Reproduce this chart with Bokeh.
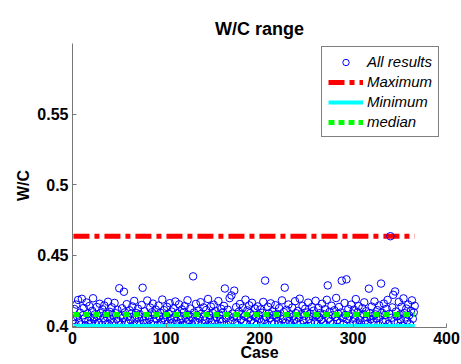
import numpy as np
from bokeh.plotting import figure
from bokeh.models import Range1d, FixedTicker, Legend, LegendItem
from bokeh.embed import file_html
from bokeh.resources import INLINE

title_text = "W/C range"
x_label = "Case"
y_label = "W/C"
x_ticks = [0, 100, 200, 300, 400]
y_ticks = [0.4, 0.45, 0.5, 0.55]
y_tick_labels = ["0.4", "0.45", "0.5", "0.55"]
series_names = ["All results", "Maximum", "Minimum", "median"]

wc = [
    0.4043, 0.4121, 0.4017, 0.4152, 0.4068, 0.4185, 0.4032, 0.4095, 0.4011, 0.4193, 0.4076, 0.4128, 0.4054, 0.4003, 0.4167, 0.4089, 0.4038, 0.4142, 0.4062, 0.4021,
    0.4108, 0.4197, 0.4049, 0.4083, 0.4015, 0.4135, 0.4071, 0.4026, 0.4158, 0.4092, 0.4007, 0.4119, 0.4057, 0.4146, 0.4035, 0.4088, 0.4064, 0.4172, 0.4012, 0.4101,
    0.4047, 0.4133, 0.4079, 0.4024, 0.4164, 0.4091, 0.4052, 0.4115, 0.4036, 0.4268, 0.4073, 0.4009, 0.4126, 0.4058, 0.4243, 0.4097, 0.4031, 0.4155, 0.4066, 0.4019,
    0.4112, 0.4044, 0.4087, 0.4139, 0.4005, 0.4178, 0.4061, 0.4093, 0.4027, 0.4123, 0.4055, 0.4084, 0.4016, 0.4149, 0.4271, 0.4039, 0.4105, 0.4069, 0.4022, 0.4181,
    0.4074, 0.4046, 0.4131, 0.4013, 0.4098, 0.4159, 0.4033, 0.4082, 0.4117, 0.4051, 0.4008, 0.4145, 0.4067, 0.4094, 0.4029, 0.4188, 0.4056, 0.4113, 0.4041, 0.4077,
    0.4136, 0.4018, 0.4086, 0.4162, 0.4048, 0.4103, 0.4025, 0.4127, 0.4063, 0.4174, 0.4037, 0.4091, 0.4014, 0.4154, 0.4072, 0.4045, 0.4118, 0.4006, 0.4099, 0.4141,
    0.4059, 0.4028, 0.4183, 0.4081, 0.4042, 0.4124, 0.4065, 0.4011, 0.4352, 0.4096, 0.4034, 0.4157, 0.4075, 0.4023, 0.4109, 0.4053, 0.4169, 0.4087, 0.4019, 0.4132,
    0.4068, 0.4041, 0.4114, 0.4004, 0.4192, 0.4079, 0.4057, 0.4138, 0.4026, 0.4093, 0.4151, 0.4038, 0.4106, 0.4062, 0.4015, 0.4177, 0.4083, 0.4049, 0.4122, 0.4031,
    0.4097, 0.4143, 0.4266, 0.4054, 0.4012, 0.4116, 0.4074, 0.4198, 0.4036, 0.4217, 0.4088, 0.4061, 0.4251, 0.4024, 0.4134, 0.4069, 0.4007, 0.4102, 0.4156, 0.4046,
    0.4085, 0.4129, 0.4033, 0.4071, 0.4187, 0.4017, 0.4111, 0.4058, 0.4147, 0.4092, 0.4039, 0.4165, 0.4076, 0.4021, 0.4125, 0.4064, 0.4009, 0.4139, 0.4081, 0.4052,
    0.4118, 0.4027, 0.4094, 0.4171, 0.4043, 0.4322, 0.4066, 0.4013, 0.4137, 0.4089, 0.4055, 0.4161, 0.4032, 0.4104, 0.4078, 0.4019, 0.4148, 0.4059, 0.4086, 0.4035,
    0.4127, 0.4072, 0.4006, 0.4182, 0.4048, 0.4099, 0.4272, 0.4024, 0.4115, 0.4063, 0.4153, 0.4037, 0.4082, 0.4011, 0.4131, 0.4069, 0.4044, 0.4176, 0.4091, 0.4028,
    0.4107, 0.4057, 0.4194, 0.4015, 0.4084, 0.4142, 0.4039, 0.4073, 0.4123, 0.4000, 0.4096, 0.4166, 0.4051, 0.4088, 0.4022, 0.4134, 0.4067, 0.4109, 0.4034, 0.4179,
    0.4075, 0.4016, 0.4128, 0.4061, 0.4093, 0.4045, 0.4158, 0.4029, 0.4083, 0.4119, 0.4008, 0.4186, 0.4288, 0.4053, 0.4101, 0.4036, 0.4144, 0.4077, 0.4018, 0.4112,
    0.4064, 0.4199, 0.4042, 0.4087, 0.4135, 0.4025, 0.4096, 0.4321, 0.4058, 0.4014, 0.4163, 0.4079, 0.4331, 0.4047, 0.4121, 0.4068, 0.4005, 0.4152, 0.4089, 0.4033,
    0.4116, 0.4056, 0.4191, 0.4021, 0.4098, 0.4141, 0.4043, 0.4074, 0.4012, 0.4127, 0.4085, 0.4168, 0.4037, 0.4105, 0.4062, 0.4019, 0.4265, 0.4092, 0.4049, 0.4138,
    0.4071, 0.4027, 0.4174, 0.4083, 0.4054, 0.4113, 0.4009, 0.4146, 0.4066, 0.4301, 0.4094, 0.4031, 0.4159, 0.4078, 0.4041, 0.4122, 0.4185, 0.4016, 0.4087, 0.4636,
    0.4058, 0.4132, 0.4221, 0.4035, 0.4245, 0.4103, 0.4069, 0.4023, 0.4171, 0.4081, 0.4046, 0.4137, 0.4004, 0.4196, 0.4092, 0.4061, 0.4124, 0.4038, 0.4153, 0.4076,
    0.4013, 0.4108, 0.4182, 0.4052, 0.4097, 0.4143,
]
cases = list(range(1, len(wc) + 1))

wc_max = float(np.max(wc))
wc_min = float(np.min(wc))
wc_median = float(np.median(wc))
span = [cases[0], cases[-1]]

FONT = "Liberation Sans"

p = figure(width=461, height=364, output_backend="svg", toolbar_location=None,
           x_range=Range1d(0, 400), y_range=Range1d(0.3990, 0.6),
           min_border_left=72, min_border_right=15, min_border_top=43, min_border_bottom=37)
p.outline_line_color = None
p.xgrid.visible = False
p.ygrid.visible = False
p.background_fill_color = "white"
p.border_fill_color = "white"

p.title.text = title_text
p.title.align = "center"
p.title.text_font = FONT
p.title.text_font_size = "18px"
p.title.text_font_style = "bold"
p.title.text_color = "black"

for ax in (p.xaxis[0], p.yaxis[0]):
    ax.axis_line_color = "#777777"
    ax.major_tick_line_color = "#777777"
    ax.major_tick_in = 4
    ax.major_tick_out = 0
    ax.minor_tick_line_color = None
    ax.major_label_text_font = FONT
    ax.major_label_text_font_size = "16px"
    ax.major_label_text_font_style = "bold"
    ax.major_label_text_color = "black"
    ax.axis_label_text_font = FONT
    ax.axis_label_text_font_size = "16px"
    ax.axis_label_text_font_style = "bold"
    ax.axis_label_text_color = "black"

p.xaxis.ticker = FixedTicker(ticks=x_ticks)
p.yaxis.ticker = FixedTicker(ticks=y_ticks)
p.yaxis.major_label_overrides = {t: s for t, s in zip(y_ticks, y_tick_labels)}
p.xaxis.axis_label = x_label
p.yaxis.axis_label = y_label
p.xaxis.major_label_standoff = 4
p.xaxis.axis_label_standoff = -3
p.yaxis.major_label_standoff = 4
p.yaxis.axis_label_standoff = 2

r_max = p.line(span, [wc_max, wc_max], line_color="#ff0000", line_width=5,
               line_dash="16 5 5 5")
r_all = p.scatter(cases, wc, marker="circle", size=7.5, fill_color=None,
                  line_color="#0000ff", line_width=1)
r_min = p.line(span, [wc_min, wc_min], line_color="#00ffff", line_width=4)
r_med = p.line(span, [wc_median, wc_median], line_color="#00ff00", line_width=5,
               line_dash="6 4")

legend = Legend(items=[LegendItem(label=series_names[0], renderers=[r_all]),
                       LegendItem(label=series_names[1], renderers=[r_max]),
                       LegendItem(label=series_names[2], renderers=[r_min]),
                       LegendItem(label=series_names[3], renderers=[r_med])],
                location=(249, 190))
legend.label_text_font = FONT
legend.label_text_font_size = "15px"
legend.label_text_font_style = "italic"
legend.label_text_color = "black"
legend.glyph_width = 35
legend.glyph_height = 16
legend.label_height = 16
legend.label_standoff = 4
legend.spacing = 3
legend.padding = 6
legend.margin = 0
legend.border_line_color = "black"
legend.border_line_width = 1
legend.background_fill_color = "white"
legend.background_fill_alpha = 1
p.add_layout(legend, "center")

open("out.html", "w").write(file_html(p, INLINE))
